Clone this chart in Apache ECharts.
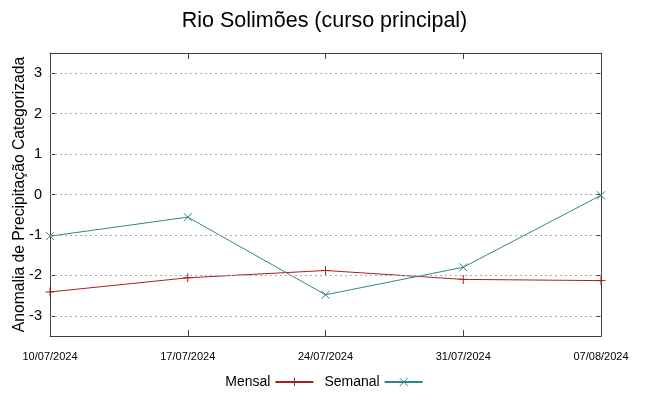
<!DOCTYPE html>
<html><head><meta charset="utf-8">
<script src="https://cdn.jsdelivr.net/npm/echarts@6/dist/echarts.min.js"></script>
<style>html,body{margin:0;padding:0;background:#fff}#c{width:649px;height:396px}</style>
</head><body><div id="c"></div>
<script>
const categories = ['10/07/2024','17/07/2024','24/07/2024','31/07/2024','07/08/2024'];
const mensal = [-2.41, -2.06, -1.88, -2.10, -2.13];
const semanal = [-1.03, -0.56, -2.48, -1.80, -0.02];
const yTicks = [-3, -2, -1, 0, 1, 2, 3];

const FONT = 'Liberation Sans, Arial, sans-serif';
const axisColor = '#404040';
const chart = echarts.init(document.getElementById('c'));
const plus = 'path://M0,-5L0,5M-5,0L5,0';
const cross = 'path://M-4,-4L4,4M-4,4L4,-4';
chart.setOption({
  animation: false,
  title: { text: 'Rio Solimões (curso principal)', left: 'center', top: 5,
    textStyle: { fontFamily: FONT, fontSize: 21.5, fontWeight: 'normal', color: '#000' } },
  grid: { left: 50, right: 48, top: 53, bottom: 60, containLabel: false, outerBoundsMode: 'none' },
  legend: {
    bottom: 2, left: 'center', align: 'right', itemWidth: 38, itemHeight: 10, itemGap: 10,
    textStyle: { fontFamily: FONT, fontSize: 14, color: '#000' },
    data: [{ name: 'Mensal', itemStyle: { borderWidth: 1 } }, { name: 'Semanal', itemStyle: { borderWidth: 1 } }]
  },
  xAxis: [{
    type: 'category', data: categories, boundaryGap: false,
    axisLine: { show: true, onZero: false, lineStyle: { color: axisColor, width: 1 } },
    axisTick: { show: true, inside: true, length: 6, lineStyle: { color: axisColor } },
    axisLabel: { fontFamily: FONT, fontSize: 11, color: '#000', margin: 15, interval: 0 },
    splitLine: { show: false }
  }, {
    type: 'category', data: categories, boundaryGap: false, position: 'top',
    axisLine: { show: true, onZero: false, lineStyle: { color: axisColor } },
    axisTick: { show: true, inside: true, length: 6, lineStyle: { color: axisColor } },
    axisLabel: { show: false }
  }],
  yAxis: [{
    type: 'value', min: -3.5, max: 3.5, interval: 0.5,
    name: 'Anomalia de Precipitação Categorizada', nameLocation: 'middle', nameGap: 22,
    nameMoveOverlap: false,
    nameTextStyle: { fontFamily: FONT, fontSize: 15.7, color: '#000' },
    axisLine: { show: true, onZero: false, lineStyle: { color: axisColor } },
    axisTick: { show: true, inside: true, length: 6, lineStyle: { color: axisColor },
      customValues: yTicks },
    axisLabel: { fontFamily: FONT, fontSize: 14.5, color: '#000', margin: 8, customValues: yTicks },
    splitLine: { show: false }
  }, {
    type: 'value', min: -3.5, max: 3.5, position: 'right',
    axisLine: { show: true, onZero: false, lineStyle: { color: axisColor } },
    axisTick: { show: true, inside: true, length: 6, lineStyle: { color: axisColor }, customValues: yTicks },
    axisLabel: { show: false },
    splitLine: { show: false }
  }],
  series: [{
    name: 'Mensal', type: 'line', data: mensal, symbol: plus, symbolSize: 9,
    showSymbol: true,
    lineStyle: { color: '#a52020', width: 1 },
    itemStyle: { color: '#a52020', borderColor: '#a52020', borderWidth: 1 },
    markLine: {
      silent: true, symbol: 'none', label: { show: false },
      lineStyle: { color: '#aaaaaa', type: [2, 3], width: 1 },
      data: yTicks.map(v => ({ yAxis: v }))
    }
  }, {
    name: 'Semanal', type: 'line', data: semanal, symbol: cross, symbolSize: 8,
    showSymbol: true,
    lineStyle: { color: '#2e8787', width: 1 },
    itemStyle: { color: '#2e8787', borderColor: '#2e8787', borderWidth: 1 }
  }]
});
</script></body></html>
